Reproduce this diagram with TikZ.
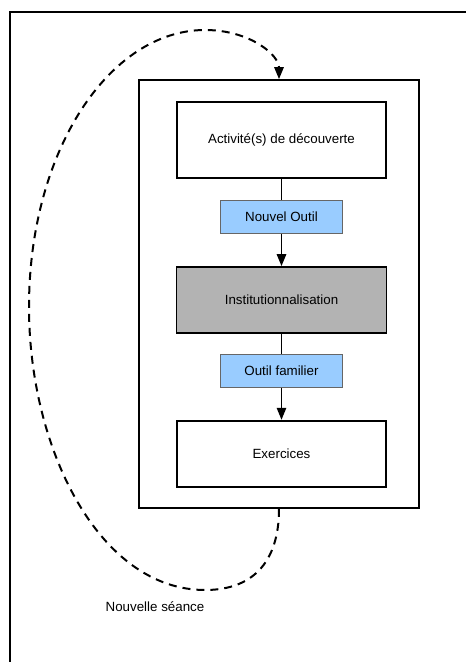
\documentclass[tikz,border=0pt]{standalone}
\usepackage{fontspec}
\setmainfont{Liberation Sans}
\usetikzlibrary{positioning,arrows.meta}
\definecolor{tool}{HTML}{99CCFF}
\definecolor{synth}{HTML}{B3B3B3}

\begin{document}
\begin{tikzpicture}[
        x=0.75pt, y=-0.75pt,
        stepbox/.style={rectangle, draw=black, line width=1.3pt, fill=white,
        minimum width=157pt, minimum height=49.5pt, font=\normalsize},
        toolbox/.style={rectangle, draw=black!60, line width=0.6pt, fill=tool,
        minimum width=92pt, minimum height=24.5pt, font=\normalsize},
        flow/.style={-{Triangle[length=9pt, width=7pt]}, line width=1.3pt},
        link/.style={line width=1.3pt},
        loopback/.style={-{Triangle[length=9pt, width=7pt]}, line width=1.5pt,
        dash pattern=on 6pt off 4.5pt},
      ]
      \useasboundingbox (0,0) rectangle (466,662);

      % Outer page frame
      \draw[line width=1.3pt] (10,662) |- (466,12);

      % Session frame
      \node[rectangle, draw=black, line width=1.3pt, minimum width=210pt,
      minimum height=321pt] (seance) at (279,294) {};

      \node[stepbox, minimum height=57pt] (decouverte) at (281.5,140)
      {Activité(s) de découverte};
      \node[toolbox] (nouvel) at (281.5,217) {Nouvel Outil};
      \node[stepbox, fill=synth, minimum width=157.5pt] (inst) at (281.5,300)
      {Institutionnalisation};
      \node[toolbox] (familier) at (281.5,371) {Outil familier};
      \node[stepbox] (exos) at (281.5,453.7) {Exercices};

      \draw[link] (decouverte) -- (nouvel);
      \draw[flow] (nouvel) -- (inst);
      \draw[link] (inst) -- (familier);
      \draw[flow] (familier) -- (exos);

      % Loop to the next session
      \coordinate (bas) at (seance.south);
      \coordinate (haut) at (seance.north);
      \draw[loopback] (bas) .. controls (279,565) and (250,590) .. (205,590)
      .. controls (100,590) and (29,450) .. (29,307)
      .. controls (29,150) and (110,30) .. (205,30)
      .. controls (250,30) and (279,55) .. (haut);

      \node[font=\normalsize] (nouvelle) at (155,607) {Nouvelle séance};
    \end{tikzpicture}
\end{document}
